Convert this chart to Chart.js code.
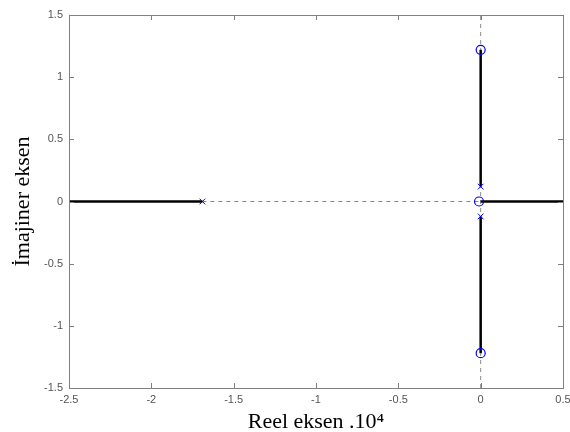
<!DOCTYPE html>
<html>
<head>
<meta charset="utf-8">
<script src="https://cdn.jsdelivr.net/npm/chart.js@4.4.1/dist/chart.umd.min.js"></script>
<style>
  html, body { margin: 0; padding: 0; background: #fff; }
</style>
</head>
<body>
<canvas id="rootLocus" width="570" height="432"></canvas>
<script>
// axis ticks
const xTicks = [-2.5, -2, -1.5, -1, -0.5, 0, 0.5];
const yTicks = [-1.5, -1, -0.5, 0, 0.5, 1, 1.5];

// poles (x) and zeros (o)
const poleRe = [-1.69, 0, 0];
const poleIm = [0, 0.12, -0.12];
const zeroRe = [0, 0, -0.01];
const zeroIm = [1.22, -1.22, 0];

// root locus branches (solid)
const branchLeftRe = [-2.5, -1.69];
const branchLeftIm = [0, 0];
const branchRightRe = [0, 0.5];
const branchRightIm = [0, 0];
const branchUpRe = [0, 0];
const branchUpIm = [0.12, 1.22];
const branchDownRe = [0, 0];
const branchDownIm = [-0.12, -1.22];

// dashed guide lines
const dashHorizRe = [-1.69, 0];
const dashHorizIm = [0, 0];
const dashVertRe = [0, 0];
const dashVertIm = [-1.5, 1.5];

function toPoints(re, im) {
    return re.map((x, i) => ({ x: x, y: im[i] }));
}

function lineSet(re, im, dashed, order) {
    return {
        type: 'line',
        data: toPoints(re, im),
        showLine: true,
        borderColor: dashed ? '#8a8a8a' : '#000',
        borderWidth: dashed ? 1 : 2.5,
        borderDash: dashed ? [4, 4] : [],
        pointRadius: 0,
        order: order
    };
}

// draws box, inward ticks and axis titles
const axesBox = {
    id: 'axesBox',
    afterDraw(chart) {
        const ctx = chart.ctx;
        const a = chart.chartArea;
        const xs = chart.scales.x;
        const ys = chart.scales.y;
        ctx.save();
        ctx.strokeStyle = '#808080';
        ctx.lineWidth = 1;
        ctx.strokeRect(a.left + 0.5, a.top + 0.5, a.right - a.left, a.bottom - a.top);
        ctx.beginPath();
        xTicks.forEach(v => {
            const px = Math.round(xs.getPixelForValue(v)) + 0.5;
            ctx.moveTo(px, a.bottom); ctx.lineTo(px, a.bottom - 5);
            ctx.moveTo(px, a.top); ctx.lineTo(px, a.top + 5);
        });
        yTicks.forEach(v => {
            const py = Math.round(ys.getPixelForValue(v)) + 0.5;
            ctx.moveTo(a.left, py); ctx.lineTo(a.left + 5, py);
            ctx.moveTo(a.right, py); ctx.lineTo(a.right - 5, py);
        });
        ctx.stroke();

        ctx.fillStyle = '#000';
        ctx.font = '22px "Liberation Serif", "Times New Roman", serif';
        ctx.textAlign = 'center';
        ctx.textBaseline = 'alphabetic';
        ctx.fillText('Reel eksen .10⁴', (a.left + a.right) / 2, 428);
        ctx.translate(29, (a.top + a.bottom) / 2);
        ctx.rotate(-Math.PI / 2);
        ctx.fillText('İmajiner eksen', 0, 0);
        ctx.restore();
    }
};

const bgWhite = {
    id: 'bgWhite',
    beforeDraw(chart) {
        const ctx = chart.ctx;
        ctx.save();
        ctx.fillStyle = '#fff';
        ctx.fillRect(0, 0, chart.width, chart.height);
        ctx.restore();
    }
};

document.addEventListener('DOMContentLoaded', function() {
    const ctx = document.getElementById('rootLocus');
    new Chart(ctx, {
        type: 'scatter',
        data: {
            datasets: [
                lineSet(dashHorizRe, dashHorizIm, true, 10),
                lineSet(dashVertRe, dashVertIm, true, 10),
                lineSet(branchLeftRe, branchLeftIm, false, 5),
                lineSet(branchRightRe, branchRightIm, false, 5),
                lineSet(branchUpRe, branchUpIm, false, 5),
                lineSet(branchDownRe, branchDownIm, false, 5),
                {
                    label: 'poles',
                    data: toPoints(poleRe, poleIm),
                    pointStyle: 'crossRot',
                    pointRadius: 4,
                    borderColor: '#0000ff',
                    borderWidth: 1,
                    order: 1
                },
                {
                    label: 'zeros',
                    data: toPoints(zeroRe, zeroIm),
                    pointStyle: 'circle',
                    pointRadius: 4.5,
                    backgroundColor: 'rgba(0,0,0,0)',
                    borderColor: '#0000ff',
                    borderWidth: 1.2,
                    order: 0
                }
            ]
        },
        options: {
            responsive: false,
            animation: false,
            layout: { padding: { top: 15, right: 7, left: 0, bottom: 0 } },
            plugins: {
                legend: { display: false },
                tooltip: { enabled: false }
            },
            scales: {
                x: {
                    type: 'linear',
                    min: -2.5,
                    max: 0.5,
                    afterBuildTicks: scale => { scale.ticks = xTicks.map(v => ({ value: v })); },
                    afterFit: scale => { scale.height = 44; scale.paddingRight = 0; scale.paddingLeft = 0; },
                    grid: { display: false, drawTicks: false },
                    border: { display: false },
                    ticks: {
                        padding: 5,
                        color: '#555',
                        font: { family: '"Liberation Sans", Arial, sans-serif', size: 11 },
                        maxRotation: 0,
                        callback: v => String(v)
                    }
                },
                y: {
                    type: 'linear',
                    min: -1.5,
                    max: 1.5,
                    afterBuildTicks: scale => { scale.ticks = yTicks.map(v => ({ value: v })); },
                    afterFit: scale => { scale.width = 69; scale.paddingTop = 0; scale.paddingBottom = 0; },
                    grid: { display: false, drawTicks: false },
                    border: { display: false },
                    ticks: {
                        padding: 6,
                        color: '#555',
                        font: { family: '"Liberation Sans", Arial, sans-serif', size: 11 },
                        callback: v => String(v)
                    }
                }
            }
        },
        plugins: [bgWhite, axesBox]
    });
});
</script>
</body>
</html>
